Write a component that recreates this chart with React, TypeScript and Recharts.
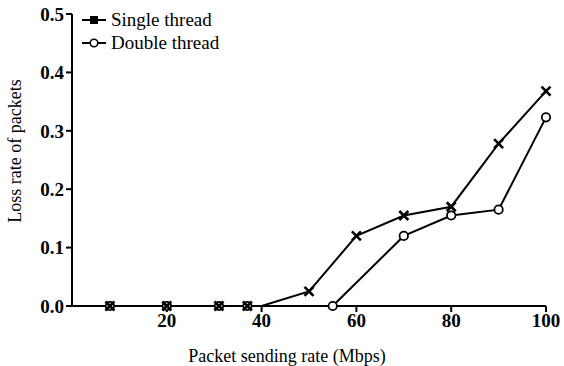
import { LineChart, Line, XAxis, YAxis } from "recharts"

// Packet sending rate (Mbps) and loss rate for each mode
const singleRate = [8, 20, 31, 37, 40, 50, 60, 70, 80, 90, 100]
const singleLoss = [0, 0, 0, 0, 0, 0.025, 0.12, 0.155, 0.17, 0.278, 0.368]
const singleNoMarker = [40]

const doubleRate = [8, 20, 31, 37, 55, 70, 80, 90, 100]
const doubleLoss = [0, 0, 0, 0, 0, 0.12, 0.155, 0.165, 0.323]

const xTicks = [20, 40, 60, 80, 100]
const yTicks = [0, 0.1, 0.2, 0.3, 0.4, 0.5]

const singleData = singleRate.map((x, i) => ({ x, single: singleLoss[i] }))
const doubleData = doubleRate.map((x, i) => ({ x, double: doubleLoss[i] }))

const FONT = "'Liberation Serif'"

const CrossDot = (props: any) => {
  const { cx, cy, payload } = props
  if (cx == null || cy == null || singleNoMarker.includes(payload.x)) return <g />
  const s = 4.5
  return (
    <g stroke="#000" strokeWidth={2.6}>
      <line x1={cx - s} y1={cy - s} x2={cx + s} y2={cy + s} />
      <line x1={cx - s} y1={cy + s} x2={cx + s} y2={cy - s} />
    </g>
  )
}

const CircleDot = (props: any) => {
  const { cx, cy } = props
  if (cx == null || cy == null) return <g />
  return <circle cx={cx} cy={cy} r={4.2} fill="#fff" stroke="#000" strokeWidth={1.8} />
}

// legend drawn as an overlay in the top-left of the plot
const LegendBox = () => (
  <div
    style={{
      position: "absolute",
      left: 81,
      top: 8,
      fontFamily: FONT,
      fontSize: 19,
      color: "#000",
      lineHeight: "23px",
    }}
  >
    <div style={{ display: "flex", alignItems: "center" }}>
      <svg width={26} height={12} style={{ marginRight: 4 }}>
        <line x1={1} y1={6} x2={25} y2={6} stroke="#000" strokeWidth={2} />
        <rect x={9} y={2} width={8} height={8} fill="#000" />
      </svg>
      Single thread
    </div>
    <div style={{ display: "flex", alignItems: "center" }}>
      <svg width={26} height={12} style={{ marginRight: 4 }}>
        <line x1={1} y1={6} x2={25} y2={6} stroke="#000" strokeWidth={2} />
        <circle cx={13} cy={6} r={3.8} fill="#fff" stroke="#000" strokeWidth={1.6} />
      </svg>
      Double thread
    </div>
  </div>
)

export default function App() {
  return (
    <div style={{ position: "absolute", left: 0, top: 0, width: 564, height: 366, background: "#fff" }}>
      <LineChart width={564} height={366} margin={{ top: 14, right: 18, left: 0, bottom: 0 }}>
        <XAxis
          type="number"
          dataKey="x"
          domain={[0, 100]}
          ticks={xTicks}
          allowDuplicatedCategory={false}
          height={60}
          stroke="#000"
          strokeWidth={2}
          tickSize={6}
          tick={{ fill: "#000", fontFamily: FONT, fontSize: 19, fontWeight: "bold" }}
          label={{ value: "Packet sending rate (Mbps)", position: "insideBottom", offset: 4, dx: -22, fill: "#000", fontFamily: FONT, fontSize: 18 }}
        />
        <YAxis
          type="number"
          domain={[0, 0.5]}
          ticks={yTicks}
          width={72}
          stroke="#000"
          strokeWidth={2}
          tickSize={6}
          tickFormatter={(v: number) => v.toFixed(1)}
          tick={{ fill: "#000", fontFamily: FONT, fontSize: 19, fontWeight: "bold" }}
          label={{ value: "Loss rate of packets", angle: -90, position: "center", dx: -21, dy: -9, fill: "#000", fontFamily: FONT, fontSize: 18 }}
        />
        <Line
          data={doubleData}
          dataKey="double"
          stroke="#000"
          strokeWidth={2}
          dot={<CircleDot />}
          isAnimationActive={false}
        />
        <Line
          data={singleData}
          dataKey="single"
          stroke="#000"
          strokeWidth={2}
          dot={<CrossDot />}
          isAnimationActive={false}
        />
      </LineChart>
      <LegendBox />
    </div>
  )
}
